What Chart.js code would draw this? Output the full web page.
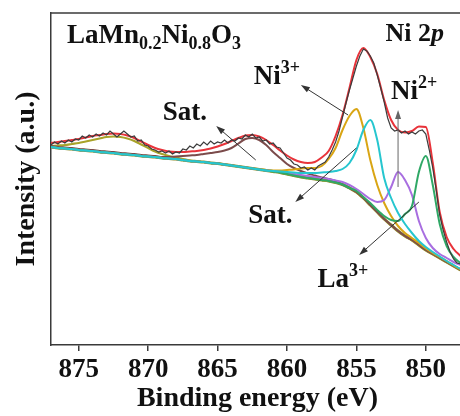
<!DOCTYPE html>
<html>
<head>
<meta charset="utf-8">
<script src="https://cdn.jsdelivr.net/npm/chart.js@4/dist/chart.umd.min.js"></script>
<style>
  html, body { margin: 0; padding: 0; background: #fff; overflow: hidden; }
  #wrap { width: 464px; height: 416px; }
</style>
</head>
<body>
<div id="wrap"><canvas id="c" width="464" height="416"></canvas></div>
<script>
// binding energies of the fitted curves (eV)
const energy = [877, 876.5, 876, 875.5, 875, 874.5, 874, 873.5, 873, 872.5, 872, 871.5, 871, 870.5, 870,
  869.5, 869, 868.5, 868, 867.5, 867, 866.5, 866, 865.5, 865, 864.5, 864, 863.5, 863, 862.5,
  862, 861.5, 861, 860.5, 860, 859.5, 859, 858.5, 858, 857.5, 857, 856.5, 856, 855.5, 855,
  854.5, 854, 853.5, 853, 852.5, 852, 851.5, 851, 850.5, 850, 849.5, 849, 848.5, 848, 847.5];

const xTicks = [875, 870, 865, 860, 855, 850];

// Shirley background
const background = [198, 197, 196.5, 196, 195, 194.5, 194, 193, 192.5, 192, 191, 190.5, 190, 189, 188.5,
  188, 187, 186.5, 186, 185, 184, 183.5, 183, 182, 181.5, 180.5, 179.5, 178.5, 177.5, 176.5,
  175.5, 174.5, 173.5, 172.5, 171, 169.5, 168, 167, 166, 165, 164, 162.5, 160.5, 157, 153,
  147, 140, 133, 126, 120, 114, 109, 105, 100, 95, 91, 87, 83, 79, 75];

// fitted envelope
const envelope = [202, 203, 204, 205, 206, 207.5, 209, 210, 211, 211.5, 211, 209.5, 207, 203.5, 200,
  197, 195, 193.5, 193, 193, 193.5, 194, 195, 196.5, 198.5, 201, 204, 207, 209.5, 210,
  208.5, 205, 200, 194.5, 189.5, 185.5, 183, 182, 183, 187.5, 194, 209, 230, 257, 285,
  297, 288, 271, 245, 225, 215, 212.5, 214, 218.5, 218, 182, 133, 108, 96, 89];

// components (null = on the background)
const sat2p12 = [199, 199.5, 200, 201, 202, 203.5, 205, 206.5, 208, 208.5, 208, 206.5, 204, 200.5, 197,
  193.5, 191, 189, 187.5, 186, 184.5, null, null, null, null, null, null, null, null, null,
  null, null, null, null, null, null, null, null, null, null, null, null, null, null, null,
  null, null, null, null, null, null, null, null, null, null, null, null, null, null, null];

const sat2p32 = [199, 198, 197.5, 197, 196, 195.5, 195, 194, 193.5, 193, 192, 191.5, 191, 190, 189.5,
  189, 188, 188, 188.5, 189, 189.5, 190, 191, 192, 193, 194.5, 197, 201.5, 206, 207,
  205, 200, 193, 187, 181, 177, 174, 171.5, 169.5, 167.5, 166, 164, null, null, null,
  null, null, null, null, null, null, null, null, null, null, null, null, null, null, null];

const ni3 = [null, null, null, null, null, null, null, null, null, null, null, null, null, null, null,
  null, null, null, null, null, null, null, null, null, null, null, null, null, null, null,
  176, 175, 174.5, 174.5, 175, 175.5, 176.5, 177, 177, 179, 186, 197, 215, 229, 236,
  217, 185, 160, 142, 129, 119, 112, 107, 102, 96.5, 92, 88, 84, 79.5, 75.5];

const satNi = [null, null, null, null, null, null, null, null, null, null, null, null, null, null, null,
  null, null, null, null, null, null, null, null, null, null, null, null, null, null, null,
  null, null, 174, 173.5, 173, 172.5, 172, 172, 172, 172.5, 173, 174, 176, 182, 195,
  215, 225, 205, 167, 147, 132, 121, 112, 104, 98, 93, 88.5, 84, 80, 76];

const ni2 = [null, null, null, null, null, null, null, null, null, null, null, null, null, null, null,
  null, null, null, null, null, null, null, null, null, null, null, null, null, null, null,
  null, null, 174, 173, 172, 171, 170, 169, 168, 167, 166, 164.5, 163, 160, 156,
  151, 146, 143, 145, 158, 173, 165, 150, 124, 107, 97, 91, 87, 83, 80];

const la3 = [null, null, null, null, null, null, null, null, null, null, null, null, null, null, null,
  null, null, null, null, null, null, null, null, null, null, null, null, null, null, null,
  null, null, null, null, null, null, null, null, null, null, null, null, null, null, 154,
  148, 142, 135, 129, 125, 124, 131, 139, 173, 189, 160, 121, 99, 88, 82];

// measured spectrum [binding energy, intensity]
const measured = [[877, 200], [876.75, 203], [876.5, 201], [876.25, 204], [876, 202], [875.75, 205],
  [875.5, 203], [875.25, 206], [875, 205], [874.75, 209], [874.5, 207], [874.25, 210], [874, 208],
  [873.75, 211], [873.5, 209], [873.25, 212], [873, 210], [872.75, 214], [872.5, 211], [872.25, 208],
  [872, 211], [871.75, 214], [871.5, 211], [871.25, 208], [871, 209], [870.75, 204], [870.5, 205],
  [870.25, 200], [870, 199], [869.75, 196], [869.5, 195], [869.25, 193], [869, 194], [868.75, 192],
  [868.5, 194], [868.25, 191], [868, 193], [867.75, 192], [867.5, 196], [867.25, 195], [867, 199],
  [866.75, 197], [866.5, 201], [866.25, 199], [866, 203], [865.75, 200], [865.5, 204], [865.25, 201],
  [865, 203], [864.75, 202], [864.5, 205], [864.25, 202], [864, 205], [863.75, 204], [863.5, 207],
  [863.25, 206], [863, 210], [862.75, 208], [862.5, 211], [862.25, 207], [862, 208], [861.75, 204],
  [861.5, 205], [861.25, 201], [861, 202], [860.75, 198], [860.5, 197], [860.25, 192], [860, 187],
  [859.75, 185], [859.5, 181], [859.25, 180], [859, 177], [858.75, 178], [858.5, 175], [858.25, 177],
  [858, 175], [857.75, 179], [857.5, 181], [857.25, 183], [857, 188], [856.75, 195], [856.5, 203],
  [856.25, 214], [856, 228], [855.75, 242], [855.5, 255], [855.25, 267], [855, 279], [854.75, 289],
  [854.5, 296], [854.25, 294], [854, 289], [853.75, 282], [853.5, 270], [853.25, 257], [853, 243],
  [852.75, 227], [852.5, 217], [852.25, 214], [852, 215], [851.75, 212], [851.5, 214], [851.25, 211],
  [851, 213], [850.75, 211], [850.5, 214], [850.25, 215], [850, 211], [849.75, 195], [849.5, 177],
  [849.25, 155], [849, 130], [848.75, 115], [848.5, 103], [848.25, 93], [848, 86], [847.75, 82],
  [847.5, 81]];

const SERIF = '"Liberation Serif", "Times New Roman", serif';

const onBg = arr => arr.map((v, i) => ({ x: energy[i], y: v === null ? background[i] : v }));

function fitLine(data, color, width) {
  return {
    data: data,
    borderColor: color,
    borderWidth: width,
    pointRadius: 0,
    cubicInterpolationMode: 'monotone',
    fill: false
  };
}

// text with sub/superscripts: parts = [[text, kind]], kind: '', 'sub', 'sup', 'it'
function richText(ctx, x, y, parts, size, align) {
  const small = Math.round(size * 0.66);
  const fontOf = k => (k === 'sub' || k === 'sup')
    ? 'bold ' + small + 'px ' + SERIF
    : (k === 'it' ? 'italic bold ' : 'bold ') + size + 'px ' + SERIF;
  let total = 0;
  parts.forEach(p => { ctx.font = fontOf(p[1]); total += ctx.measureText(p[0]).width; });
  let cx = align === 'right' ? x - total : x;
  ctx.textAlign = 'left';
  ctx.textBaseline = 'alphabetic';
  parts.forEach(p => {
    ctx.font = fontOf(p[1]);
    let dy = 0;
    if (p[1] === 'sub') dy = size * 0.22;
    if (p[1] === 'sup') dy = -size * 0.42;
    ctx.fillText(p[0], cx, y + dy);
    cx += ctx.measureText(p[0]).width;
  });
}

function arrow(ctx, x1, y1, x2, y2, color) {
  const a = Math.atan2(y2 - y1, x2 - x1);
  ctx.strokeStyle = color;
  ctx.fillStyle = color;
  ctx.lineWidth = 1;
  ctx.beginPath();
  ctx.moveTo(x1, y1);
  ctx.lineTo(x2 - 6 * Math.cos(a), y2 - 6 * Math.sin(a));
  ctx.stroke();
  ctx.beginPath();
  ctx.moveTo(x2, y2);
  ctx.lineTo(x2 - 9 * Math.cos(a) + 3 * Math.sin(a), y2 - 9 * Math.sin(a) - 3 * Math.cos(a));
  ctx.lineTo(x2 - 9 * Math.cos(a) - 3 * Math.sin(a), y2 - 9 * Math.sin(a) + 3 * Math.cos(a));
  ctx.closePath();
  ctx.fill();
}

const notes = {
  id: 'notes',
  afterDraw(chart) {
    const { ctx, chartArea: ca, scales: { x, y } } = chart;
    const px = e => x.getPixelForValue(e);
    const py = v => y.getPixelForValue(v);
    ctx.save();

    // top frame line
    ctx.strokeStyle = '#3a3a3a';
    ctx.lineWidth = 1.5;
    ctx.beginPath();
    ctx.moveTo(ca.left, ca.top);
    ctx.lineTo(ca.right, ca.top);
    ctx.stroke();

    // arrows
    arrow(ctx, px(862.25), py(185), px(865.1), py(219), '#333');
    arrow(ctx, px(855.6), py(230), px(859.0), py(260), '#333');
    arrow(ctx, px(852.0), py(158), px(852.0), py(235), '#666');
    arrow(ctx, px(855.0), py(197), px(859.4), py(143), '#333');
    arrow(ctx, px(850.5), py(143), px(854.8), py(90), '#333');

    ctx.fillStyle = '#111';
    richText(ctx, ca.left + 16, ca.top + 30,
      [['LaMn', ''], ['0.2', 'sub'], ['Ni', ''], ['0.8', 'sub'], ['O', ''], ['3', 'sub']], 27);
    richText(ctx, ca.right - 20, ca.top + 28, [['Ni 2', ''], ['p', 'it']], 26, 'right');
    richText(ctx, px(868.95), py(225), [['Sat.', '']], 27);
    richText(ctx, px(862.4), py(261), [['Ni', ''], ['3+', 'sup']], 27);
    richText(ctx, px(852.5), py(246), [['Ni', ''], ['2+', 'sup']], 27);
    richText(ctx, px(862.8), py(122), [['Sat.', '']], 27);
    richText(ctx, px(857.8), py(58), [['La', ''], ['3+', 'sup']], 27);
    ctx.restore();
  }
};

new Chart(document.getElementById('c'), {
  type: 'line',
  plugins: [notes],
  data: {
    datasets: [
      {
        data: measured.map(p => ({ x: p[0], y: p[1] })),
        borderColor: '#3c3c3c',
        borderWidth: 1.2,
        pointRadius: 0,
        tension: 0,
        fill: false
      },
      fitLine(onBg(envelope), '#e8333a', 2),
      fitLine(onBg(satNi), '#26c6cf', 2),
      fitLine(onBg(la3), '#2fa866', 2),
      fitLine(onBg(ni2), '#a86ee0', 2),
      fitLine(onBg(ni3), '#d9a514', 2),
      fitLine(onBg(sat2p32), '#7b4b4b', 2),
      fitLine(onBg(sat2p12), '#a8a22a', 2.2),
      fitLine(onBg(background), '#8a8a26', 3)
    ]
  },
  options: {
    responsive: false,
    animation: false,
    layout: { padding: { top: 13, left: 0, right: 0, bottom: 0 } },
    plugins: { legend: { display: false }, tooltip: { enabled: false } },
    scales: {
      x: {
        type: 'linear',
        reverse: true,
        min: 847.25,
        max: 877,
        afterBuildTicks: s => { s.ticks = xTicks.map(v => ({ value: v })); },
        afterFit: s => { s.height = 71; },
        grid: { display: true, drawOnChartArea: false, drawTicks: true, tickLength: 6, color: '#3a3a3a', lineWidth: 1.5 },
        border: { display: true, color: '#3a3a3a', width: 1.5 },
        ticks: {
          autoSkip: false,
          maxRotation: 0,
          padding: 3,
          color: '#111',
          font: { family: SERIF, size: 27, weight: 'bold' }
        },
        title: {
          display: true,
          text: 'Binding energy (eV)',
          color: '#111',
          padding: { top: 5, bottom: 0 },
          font: { family: SERIF, size: 28, weight: 'bold' }
        }
      },
      y: {
        min: 0,
        max: 332,
        afterFit: s => { s.width = 51; },
        grid: { display: false },
        border: { display: true, color: '#3a3a3a', width: 1.5 },
        ticks: { display: false },
        title: {
          display: true,
          text: 'Intensity (a.u.)',
          color: '#111',
          padding: { top: 10, bottom: 0 },
          font: { family: SERIF, size: 28, weight: 'bold' }
        }
      }
    }
  }
});
</script>
</body>
</html>
